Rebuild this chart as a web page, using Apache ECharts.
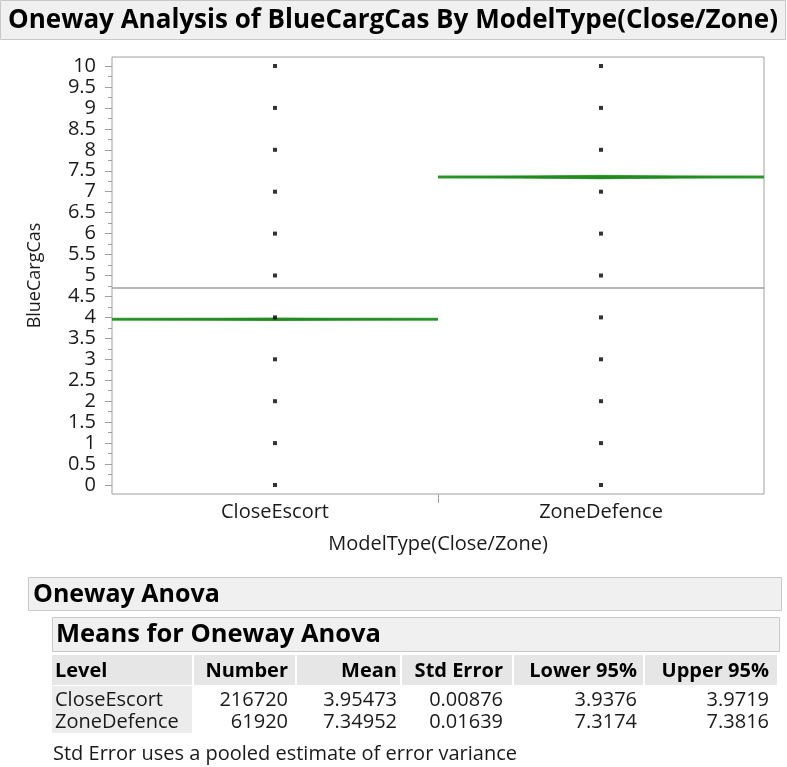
<!DOCTYPE html>
<html>
<head>
<meta charset="utf-8">
<script src="https://cdn.jsdelivr.net/npm/echarts@6/dist/echarts.min.js"></script>
<style>
html,body{margin:0;padding:0;background:#fff;}
#chart{width:787px;height:767px;}
</style>
</head>
<body>
<div id="chart"></div>
<script>
// ---- data ----
const categories = ['CloseEscort', 'ZoneDefence'];
const closeEscortValues = [0, 1, 2, 3, 4, 5, 6, 7, 8, 9, 10];
const zoneDefenceValues = [0, 1, 2, 3, 4, 5, 6, 7, 8, 9, 10];
const counts = [216720, 61920];
const means = [3.95473, 7.34952];
const stdErrors = [0.00876, 0.01639];
const lower95 = [3.9376, 7.3174];
const upper95 = [3.9719, 7.3816];
const yTickMin = 0;
const yTickMax = 10;
const yTickStep = 0.5;

const titleText = 'Oneway Analysis of BlueCargCas By ModelType(Close/Zone)';
const yName = 'BlueCargCas';
const xName = 'ModelType(Close/Zone)';
const tableHeaders = ['Level', 'Number', 'Mean', 'Std Error', 'Lower 95%', 'Upper 95%'];
const footnote = 'Std Error uses a pooled estimate of error variance';

// ---- derived ----
const totalN = counts.reduce((a, b) => a + b, 0);
const grandMean = counts.reduce((s, n, i) => s + n * means[i], 0) / totalN;

const dotData = [];
[closeEscortValues, zoneDefenceValues].forEach((vals, ci) => {
  vals.forEach(v => dotData.push([ci, v]));
});
const diamondData = categories.map((c, i) => [i, means[i], lower95[i], upper95[i]]);
// positions on the frame axis: boundaries between categories and category centres
const boundaryValues = categories.slice(1).map((c, i) => i + 1);
const centreValues = categories.map((c, i) => i + 0.5);

const FONT = '"Open Sans", "Noto Sans", sans-serif';
const TXT = '#1a1a1a';
const GREEN = '#34a034';
const GRAY = '#a0a0a0';

// ---- table graphics ----
const graphics = [];
graphics.push({ type: 'rect', shape: { x: 0.5, y: 0.5, width: 785, height: 39 },
  style: { fill: '#f0f0f0', stroke: '#c8c8c8', lineWidth: 1 }, z: 0 });
graphics.push({ type: 'text', style: { text: titleText, x: 8, y: 21, font: 'bold 26px ' + FONT,
  fill: '#000', align: 'left', verticalAlign: 'middle' }, z: 1 });
graphics.push({ type: 'rect', shape: { x: 28.5, y: 577.5, width: 753, height: 33 },
  style: { fill: '#f0f0f0', stroke: '#c8c8c8', lineWidth: 1 }, z: 0 });
graphics.push({ type: 'text', style: { text: 'Oneway Anova', x: 33, y: 595, font: 'bold 25px ' + FONT,
  fill: '#000', align: 'left', verticalAlign: 'middle' }, z: 1 });
graphics.push({ type: 'rect', shape: { x: 52.5, y: 617.5, width: 727, height: 34 },
  style: { fill: '#f0f0f0', stroke: '#c8c8c8', lineWidth: 1 }, z: 0 });
graphics.push({ type: 'text', style: { text: 'Means for Oneway Anova', x: 56, y: 635, font: 'bold 25.5px ' + FONT,
  fill: '#000', align: 'left', verticalAlign: 'middle' }, z: 1 });
const colCells = [[52, 192], [194, 295], [297, 400], [402, 512], [514, 643], [645, 777]];
const colText = [55, 288, 397, 503, 637, 769];
const colAlign = ['left', 'right', 'right', 'right', 'right', 'right'];
colCells.forEach((c, i) => {
  graphics.push({ type: 'rect', shape: { x: c[0], y: 655, width: c[1] - c[0], height: 30 },
    style: { fill: '#e6e6e6' }, z: 0 });
  graphics.push({ type: 'text', style: { text: tableHeaders[i], x: colText[i], y: 671,
    font: 'bold 20px ' + FONT, fill: '#000', align: colAlign[i], verticalAlign: 'middle' }, z: 1 });
});
graphics.push({ type: 'rect', shape: { x: 52, y: 686, width: 140, height: 47 },
  style: { fill: '#ececec' }, z: 0 });
const rowY = [700, 722];
categories.forEach((cat, r) => {
  const cells = [cat, String(counts[r]), means[r].toFixed(5), stdErrors[r].toFixed(5),
                 lower95[r].toFixed(4), upper95[r].toFixed(4)];
  cells.forEach((t, i) => {
    graphics.push({ type: 'text', style: { text: t, x: colText[i], y: rowY[r],
      font: '20px ' + FONT, fill: TXT, align: colAlign[i], verticalAlign: 'middle' }, z: 1 });
  });
});
graphics.push({ type: 'text', style: { text: footnote, x: 53, y: 754,
  font: '20px ' + FONT, fill: TXT, align: 'left', verticalAlign: 'middle' }, z: 1 });

const chart = echarts.init(document.getElementById('chart'), null, { renderer: 'canvas' });
chart.setOption({
  animation: false,
  backgroundColor: '#fff',
  grid: [
    { left: 112, right: 23, top: 66, bottom: 282, containLabel: false },
    { left: 112, right: 23, top: 57, bottom: 273, containLabel: false,
      show: true, borderColor: GRAY, borderWidth: 1, backgroundColor: 'transparent' }
  ],
  xAxis: [
    { type: 'category', data: categories, gridIndex: 0, boundaryGap: true, show: false },
    {
      type: 'value',
      gridIndex: 1,
      min: 0,
      max: categories.length,
      axisLine: { show: false },
      axisTick: { show: true, inside: false, length: 9, customValues: boundaryValues, lineStyle: { color: GRAY } },
      axisLabel: { margin: 8, color: TXT, fontSize: 20, fontFamily: FONT, customValues: centreValues,
        formatter: function (v) { return categories[Math.floor(v)] || ''; } },
      splitLine: { show: false },
      name: xName,
      nameLocation: 'middle',
      nameGap: 40,
      nameTextStyle: { color: TXT, fontSize: 20, fontFamily: FONT }
    }
  ],
  yAxis: [
    {
      type: 'value',
      gridIndex: 0,
      min: yTickMin,
      max: yTickMax,
      interval: yTickStep,
      axisLine: { show: false },
      axisTick: { show: true, length: 7, lineStyle: { color: GRAY } },
      minorTick: { show: true, splitNumber: 2, length: 4, lineStyle: { color: GRAY } },
      axisLabel: { margin: 16, color: TXT, fontSize: 20, fontFamily: FONT },
      splitLine: { show: false },
      name: yName,
      nameLocation: 'middle',
      nameGap: 68,
      nameRotate: 90,
      nameTextStyle: { color: TXT, fontSize: 18, fontFamily: FONT }
    },
    { type: 'value', gridIndex: 1, min: 0, max: 1, show: false, splitLine: { show: false } }
  ],
  series: [
    {
      type: 'scatter',
      xAxisIndex: 0,
      yAxisIndex: 0,
      data: dotData,
      symbol: 'rect',
      symbolSize: 4,
      itemStyle: { color: '#000' },
      z: 5,
      silent: true,
      markLine: {
        silent: true,
        symbol: 'none',
        label: { show: false },
        lineStyle: { color: GRAY, width: 1.5, type: 'solid' },
        data: [{ yAxis: grandMean }]
      }
    },
    {
      type: 'custom',
      xAxisIndex: 0,
      yAxisIndex: 0,
      data: diamondData,
      z: 4,
      silent: true,
      renderItem: function (params, api) {
        const idx = api.value(0);
        const c = api.coord([idx, api.value(1)]);
        const lo = api.coord([idx, api.value(2)]);
        const hi = api.coord([idx, api.value(3)]);
        const w = api.size([1, 0])[0];
        const left = c[0] - w / 2, right = c[0] + w / 2;
        return {
          type: 'group',
          children: [
            { type: 'line', shape: { x1: left, y1: c[1], x2: right, y2: c[1] },
              style: { stroke: GREEN, lineWidth: 3 } },
            { type: 'polygon', shape: { points: [[left, c[1]], [c[0], hi[1] - 0.5], [right, c[1]], [c[0], lo[1] + 0.5]] },
              style: { fill: '#218a21', stroke: '#218a21', lineWidth: 0.5 } }
          ]
        };
      }
    }
  ],
  graphic: graphics
});
</script>
</body>
</html>
